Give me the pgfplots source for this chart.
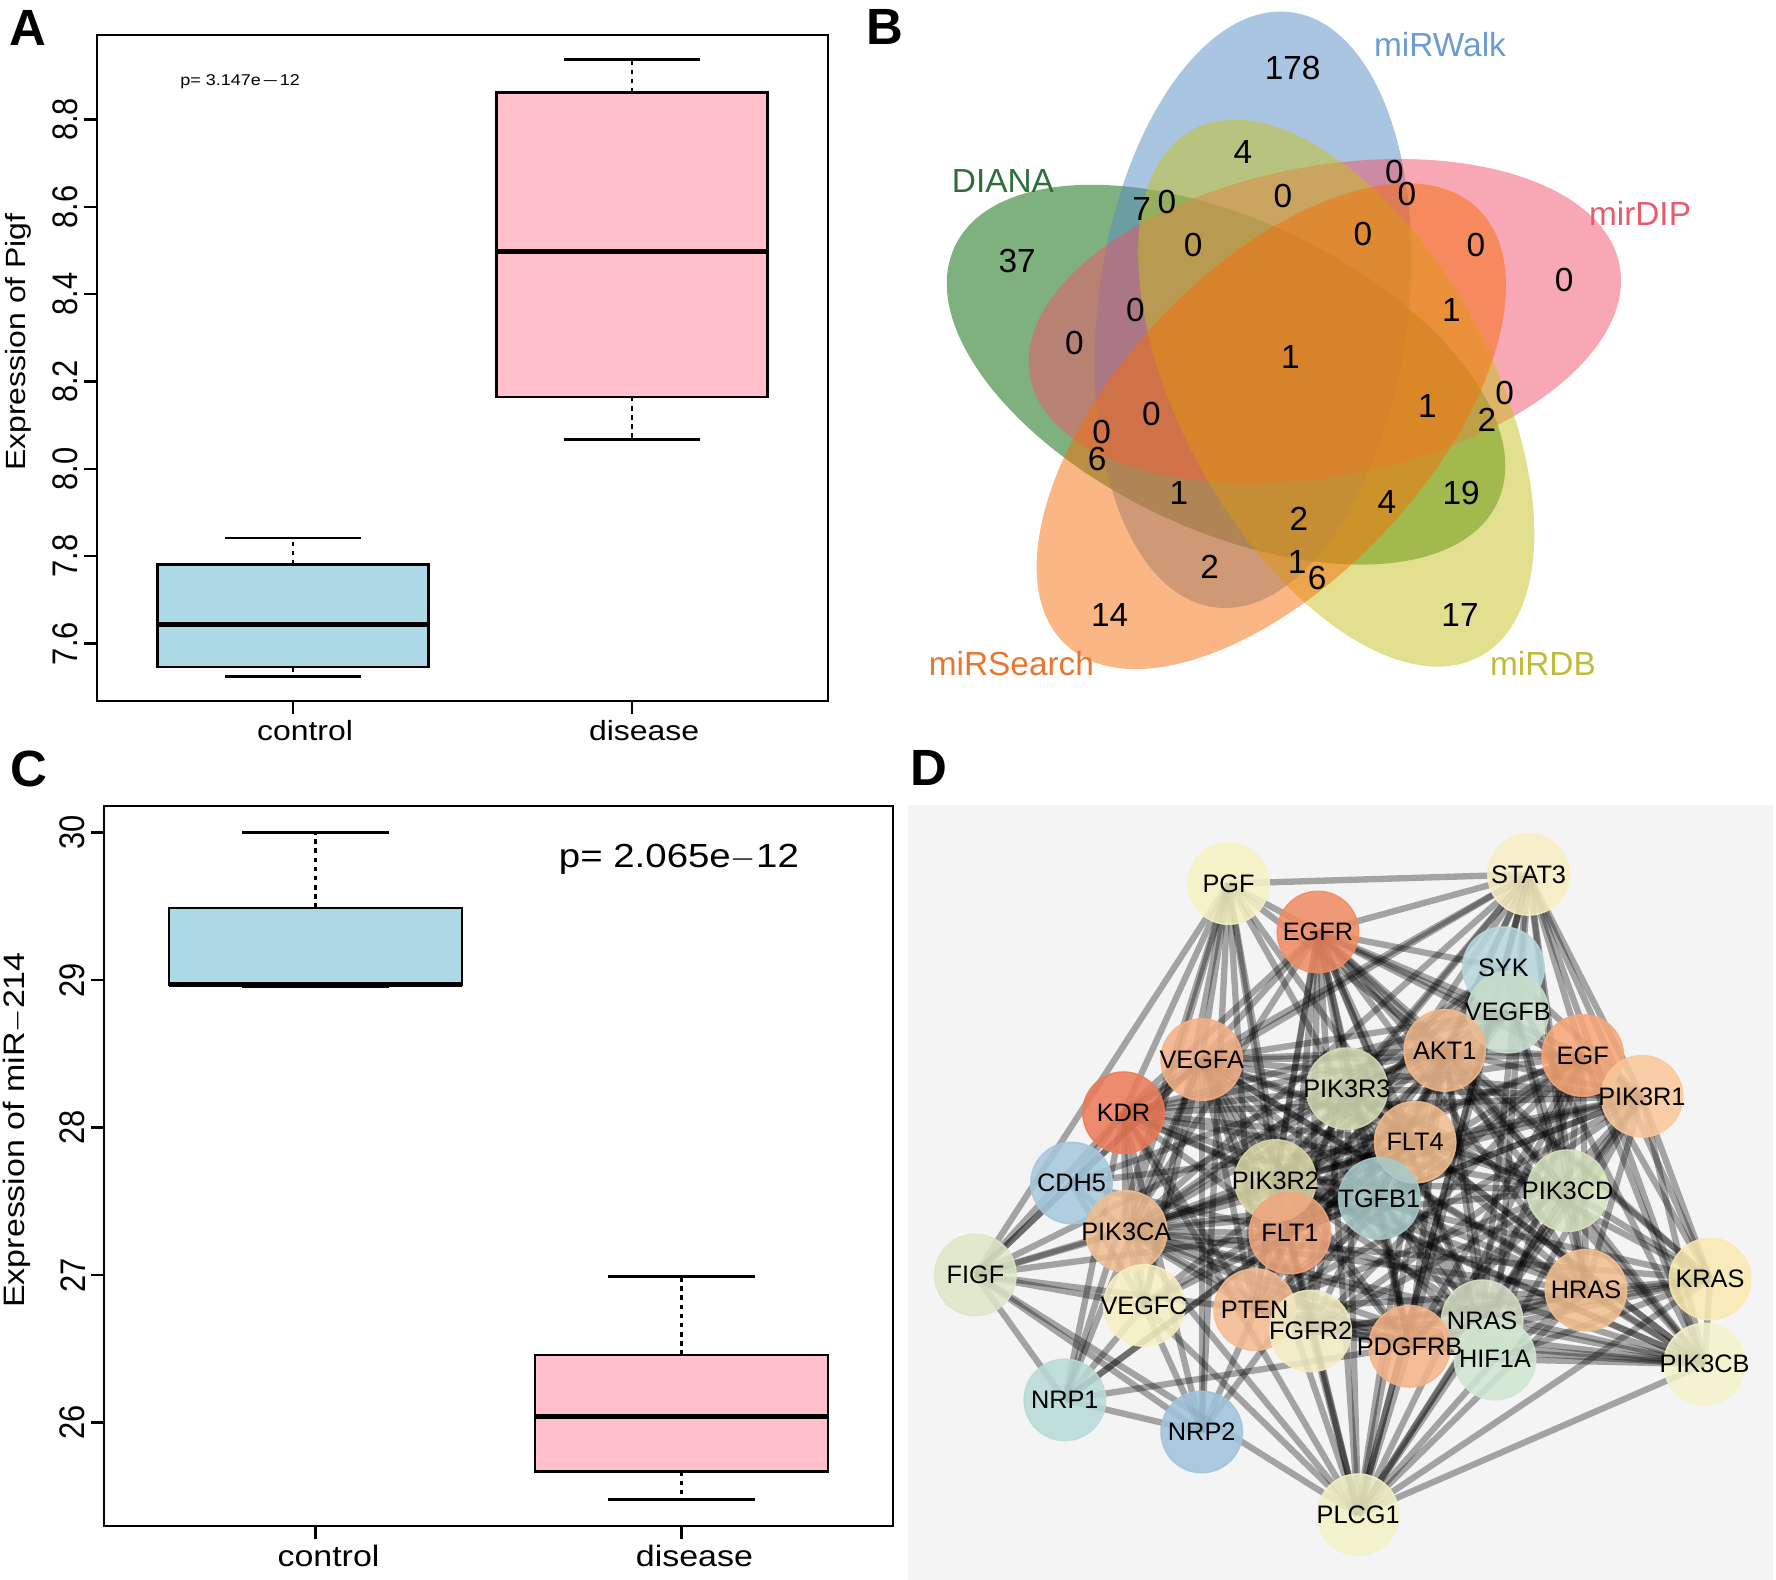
\documentclass[border=0pt]{standalone}
\usepackage{pgfplots}
\pgfplotsset{compat=1.18}
\usepackage{pgfplotstable}
\usepackage{fontspec}
\setmainfont{Liberation Sans}
\newfontfamily\widesans[FakeStretch=1.15]{Liberation Sans}
\newfontfamily\narrowsans[FakeStretch=0.87]{Liberation Sans}

\definecolor{boxblue}{HTML}{ADD8E6}
\definecolor{boxpink}{HTML}{FFC0CB}
\definecolor{vgreen}{HTML}{006400}
\definecolor{vblue}{HTML}{548CC6}
\definecolor{vpink}{HTML}{F15169}
\definecolor{vyellow}{HTML}{C5C11D}
\definecolor{vorange}{HTML}{F56E0A}
\definecolor{lgreen}{HTML}{2E6E3C}
\definecolor{lblue}{HTML}{6A9BD2}
\definecolor{lpink}{HTML}{E85A6E}
\definecolor{lyellow}{HTML}{BDBD3A}
\definecolor{lorange}{HTML}{E9762D}
\definecolor{netbg}{HTML}{F4F4F4}
\definecolor{nPGF}{HTML}{F6F2C4}
\definecolor{nSTAT3}{HTML}{F8EFC2}
\definecolor{nEGFR}{HTML}{EF8B62}
\definecolor{nSYK}{HTML}{B5D7DC}
\definecolor{nVEGFB}{HTML}{C8DDCB}
\definecolor{nAKT1}{HTML}{F0B88C}
\definecolor{nEGF}{HTML}{F7A677}
\definecolor{nPIK3R1}{HTML}{FAC79A}
\definecolor{nVEGFA}{HTML}{F4B086}
\definecolor{nPIK3R3}{HTML}{D4DBB4}
\definecolor{nKDR}{HTML}{EC7A59}
\definecolor{nFLT4}{HTML}{F1BD8E}
\definecolor{nCDH5}{HTML}{A6C7DD}
\definecolor{nPIK3R2}{HTML}{DBD7A8}
\definecolor{nTGFB1}{HTML}{A8C9CA}
\definecolor{nPIK3CD}{HTML}{D7E3C1}
\definecolor{nPIK3CA}{HTML}{EFBD91}
\definecolor{nFLT1}{HTML}{F0A67E}
\definecolor{nFIGF}{HTML}{DDE7C7}
\definecolor{nKRAS}{HTML}{F9EAB0}
\definecolor{nHRAS}{HTML}{F2BF8F}
\definecolor{nVEGFC}{HTML}{F6F0C2}
\definecolor{nPTEN}{HTML}{F4BB8F}
\definecolor{nFGFR2}{HTML}{F3EBC2}
\definecolor{nNRAS}{HTML}{D5DFC6}
\definecolor{nPDGFRB}{HTML}{F4B388}
\definecolor{nHIFA}{HTML}{D0E6D1}
\definecolor{nPIK3CB}{HTML}{F3F3C9}
\definecolor{nNRP1}{HTML}{B7DBD7}
\definecolor{nNRP2}{HTML}{9EC3DB}
\definecolor{nPLCG1}{HTML}{F2F2C6}

\pgfplotstableread{
x y name
1228.5 883.6 PGF
1528.5 874.4 STAT3
1317.9 932.0 EGFR
1503.4 967.8 SYK
1507.8 1012.1 VEGFB
1444.7 1050.4 AKT1
1582.7 1055.5 EGF
1641.9 1096.3 PIK3R1
1201.7 1059.6 VEGFA
1346.9 1088.7 PIK3R3
1123.5 1112.7 KDR
1415.1 1142.2 FLT4
1071.5 1183.0 CDH5
1275.4 1180.5 PIK3R2
1379.3 1198.4 TGFB1
1567.6 1190.7 PIK3CD
1126.3 1231.5 PIK3CA
1289.9 1233.0 FLT1
975.4 1274.9 FIGF
1710.0 1279.0 KRAS
1586.0 1290.2 HRAS
1144.1 1305.5 VEGFC
1254.7 1309.6 PTEN
1310.6 1331.0 FGFR2
1482.1 1320.8 NRAS
1409.5 1346.3 PDGFRB
1495.0 1359.1 HIF1A
1704.5 1364.2 PIK3CB
1064.8 1399.9 NRP1
1201.7 1432.0 NRP2
1358.1 1514.7 PLCG1
}\netnodes

\pgfplotstableread{
x y lab
1292.6 67.9 178
1242.9 151.8 4
1394.3 171.9 0
1406.9 194.2 0
1141.7 208.9 7
1166.9 201.8 0
1282.9 196.4 0
1017.1 261.2 37
1193.1 244.6 0
1362.9 234.4 0
1476.0 244.6 0
1564.0 280.4 0
1135.4 310.3 0
1074.3 342.9 0
1451.4 310.3 1
1290.3 357.1 1
1427.4 406.3 1
1504.6 392.9 0
1486.9 419.6 2
1151.4 414.3 0
1101.7 432.1 0
1097.1 458.9 6
1178.9 493.3 1
1298.9 518.8 2
1386.9 502.2 4
1461.1 493.3 19
1209.7 567.0 2
1297.1 562.5 1
1317.1 578.1 6
1109.7 614.7 14
1460.0 614.7 17
}\venncounts

\pgfplotsset{
  rpanel/.style={
    scale only axis, anchor=south west,
    xmin=0.422, xmax=2.578,
    xtick={1,2}, xticklabels={control,disease},
    tick pos=left, tick align=outside, major tick length=1.3mm,
    tick style={black, line width=0.7pt},
    axis line style={line width=0.7pt},
    /pgf/number format/assume math mode=true,
    yticklabel style={font=\narrowsans\fontsize{10.1}{11}\selectfont, rotate=90, anchor=south, inner sep=1.5pt},
  },
  rline/.style={draw=black, line width=0.7pt, mark=none, forget plot},
  rdash/.style={draw=black, line width=0.7pt, dash pattern=on 1.3pt off 1.3pt, mark=none, forget plot},
  rmed/.style={draw=black, line width=1.5pt, mark=none, forget plot},
  netedge/.style={draw=black, draw opacity=0.33, line width=1.8pt, mark=none, forget plot},
}

\begin{document}
\begin{tikzpicture}
\useasboundingbox (0,0) rectangle (177.6mm,158mm);

% ---------- Panel A ----------
\begin{axis}[rpanel, at={(9.7mm,87.9mm)}, width=73.1mm, height=66.6mm,
  ymin=7.4685, ymax=8.9935, ytick={7.6,7.8,8.0,8.2,8.4,8.6,8.8},
  yticklabel style={/pgf/number format/fixed, /pgf/number format/fixed zerofill, /pgf/number format/precision=1},
  xticklabel style={font=\widesans\fontsize{7.9}{9}\selectfont, xshift=1.2mm, inner sep=1.5pt},
  ylabel={Expression of Pigf},
  ylabel style={at={(axis description cs:-0.108,0.539)}, anchor=center, font=\widesans\fontsize{7.9}{9}\selectfont}]
% control: lw 7.525, q1 7.546, med 7.6435, q3 7.781, uw 7.8416
\addplot[rline, fill=boxblue] coordinates {(0.6,7.546) (1.4,7.546) (1.4,7.781) (0.6,7.781)} -- cycle;
\addplot[rmed] coordinates {(0.6,7.6435) (1.4,7.6435)};
\addplot[rdash] coordinates {(1,7.781) (1,7.8416)};
\addplot[rline] coordinates {(0.8,7.8416) (1.2,7.8416)};
\addplot[rdash] coordinates {(1,7.546) (1,7.525)};
\addplot[rline] coordinates {(0.8,7.525) (1.2,7.525)};
% disease: lw 8.067, q1 8.165, med 8.498, q3 8.862, uw 8.937
\addplot[rline, fill=boxpink] coordinates {(1.6,8.165) (2.4,8.165) (2.4,8.862) (1.6,8.862)} -- cycle;
\addplot[rmed] coordinates {(1.6,8.498) (2.4,8.498)};
\addplot[rdash] coordinates {(2,8.862) (2,8.937)};
\addplot[rline] coordinates {(1.8,8.937) (2.2,8.937)};
\addplot[rdash] coordinates {(2,8.165) (2,8.067)};
\addplot[rline] coordinates {(1.8,8.067) (2.2,8.067)};
\node[font=\widesans\fontsize{4.45}{5}\selectfont] at (axis cs:0.844,8.887) {p= 3.147e$-$12};
\end{axis}

% ---------- Panel C ----------
\begin{axis}[rpanel, at={(10.4mm,5.4mm)}, width=78.9mm, height=72mm,
  ymin=25.30, ymax=30.18, ytick={26,27,28,29,30},
  xticklabel style={font=\widesans\fontsize{8.4}{9.5}\selectfont, xshift=1.3mm, inner sep=1.5pt},
  ylabel={Expression of miR$-$214},
  ylabel style={at={(axis description cs:-0.110,0.55)}, anchor=center, font=\widesans\fontsize{8.4}{10}\selectfont}]
% control: lw 28.955, q1 28.965, med 28.97, q3 29.49, uw 30.0
\addplot[rline, fill=boxblue] coordinates {(0.6,28.965) (1.4,28.965) (1.4,29.49) (0.6,29.49)} -- cycle;
\addplot[rmed] coordinates {(0.6,28.97) (1.4,28.97)};
\addplot[rdash] coordinates {(1,29.49) (1,30.0)};
\addplot[rline] coordinates {(0.8,30.0) (1.2,30.0)};
\addplot[rline] coordinates {(0.8,28.955) (1.2,28.955)};
% disease: lw 25.48, q1 25.67, med 26.04, q3 26.46, uw 26.99
\addplot[rline, fill=boxpink] coordinates {(1.6,25.67) (2.4,25.67) (2.4,26.46) (1.6,26.46)} -- cycle;
\addplot[rmed] coordinates {(1.6,26.04) (2.4,26.04)};
\addplot[rdash] coordinates {(2,26.46) (2,26.99)};
\addplot[rline] coordinates {(1.8,26.99) (2.2,26.99)};
\addplot[rdash] coordinates {(2,25.67) (2,25.48)};
\addplot[rline] coordinates {(1.8,25.48) (2.2,25.48)};
\node[font=\widesans\fontsize{9.5}{11}\selectfont] at (axis cs:1.993,29.82) {p= 2.065e$-$12};
\end{axis}

% ---------- Panel B (Venn) ----------
\begin{axis}[at={(88mm,88mm)}, anchor=south west, scale only axis, width=89.6mm, height=70mm,
  xmin=880, xmax=1776, ymin=0, ymax=700, y dir=reverse, hide axis, clip=false]
\fill[vgreen, fill opacity=0.5, rotate around={154.7:(axis cs:1226,374.7)}] (axis cs:1226,374.7) ellipse [x radius=30mm, y radius=15.5mm];
\fill[vblue, fill opacity=0.5, rotate around={82.7:(axis cs:1252.9,309.8)}] (axis cs:1252.9,309.8) ellipse [x radius=30mm, y radius=15.5mm];
\fill[vpink, fill opacity=0.5, rotate around={10.7:(axis cs:1324.8,321.2)}] (axis cs:1324.8,321.2) ellipse [x radius=30mm, y radius=15.5mm];
\fill[vyellow, fill opacity=0.5, rotate around={-61.3:(axis cs:1336.2,393.1)}] (axis cs:1336.2,393.1) ellipse [x radius=30mm, y radius=15.5mm];
\fill[vorange, fill opacity=0.5, rotate around={-133.3:(axis cs:1271.3,426.2)}] (axis cs:1271.3,426.2) ellipse [x radius=30mm, y radius=15.5mm];
\addplot[only marks, mark=none, nodes near coords, point meta=explicit symbolic,
  nodes near coords align=center,
  every node near coord/.append style={font=\fontsize{9.5}{11}\selectfont, inner sep=0pt, text=black}]
  table[x=x, y=y, meta=lab] {\venncounts};
\node[text=lblue, font=\fontsize{9.5}{11}\selectfont] at (axis cs:1440,44.6) {miRWalk};
\node[text=lgreen, font=\fontsize{9.5}{11}\selectfont] at (axis cs:1002.9,180.8) {DIANA};
\node[text=lpink, font=\fontsize{9.5}{11}\selectfont] at (axis cs:1640,213.4) {mirDIP};
\node[text=lorange, font=\fontsize{9.5}{11}\selectfont] at (axis cs:1011.4,663.8) {miRSearch};
\node[text=lyellow, font=\fontsize{9.5}{11}\selectfont] at (axis cs:1542.9,663.8) {miRDB};
\end{axis}

% ---------- Panel D (network) ----------
\begin{axis}[at={(90.8mm,0mm)}, anchor=south west, scale only axis, width=86.5mm, height=77.5mm,
  xmin=908, xmax=1773, ymin=805, ymax=1580, y dir=reverse,
  ticks=none, axis line style={draw=none}, axis background/.style={fill=netbg}, clip=false]
\foreach \a/\b in {0/1,0/2,0/5,0/8,0/10,0/11,0/13,0/16,0/17,0/18,0/21,0/22,0/26,0/28,0/29,%
1/2,1/3,1/5,1/6,1/7,1/8,1/9,1/10,1/13,1/14,1/15,1/16,1/17,1/19,1/20,1/24,1/25,1/26,1/27,1/30,%
2/3,2/4,2/5,2/6,2/7,2/8,2/9,2/10,2/11,2/13,2/14,2/15,2/16,2/17,2/19,2/20,2/22,2/23,2/24,2/25,2/26,2/27,2/30,%
3/5,3/7,3/9,3/13,3/15,3/16,3/20,3/27,3/30,%
4/5,4/8,4/10,4/11,4/17,4/18,4/21,%
5/6,5/7,5/8,5/9,5/10,5/11,5/12,5/13,5/14,5/15,5/16,5/17,5/19,5/20,5/22,5/23,5/24,5/25,5/26,5/27,5/30,%
6/7,6/8,6/9,6/13,6/14,6/15,6/16,6/17,6/19,6/20,6/22,6/23,6/24,6/25,6/26,6/27,6/30,%
7/8,7/9,7/10,7/11,7/13,7/14,7/15,7/16,7/17,7/19,7/20,7/22,7/23,7/24,7/25,7/26,7/27,7/30,%
8/9,8/10,8/11,8/12,8/13,8/14,8/15,8/16,8/17,8/18,8/20,8/21,8/22,8/23,8/25,8/26,8/27,8/28,8/29,8/30,%
9/10,9/11,9/13,9/15,9/16,9/17,9/19,9/20,9/22,9/23,9/24,9/25,9/27,9/30,%
10/11,10/12,10/13,10/14,10/15,10/16,10/17,10/18,10/21,10/22,10/27,10/28,10/29,10/30,%
11/12,11/13,11/15,11/16,11/17,11/18,11/21,11/27,11/28,11/29,11/30,%
12/16,12/17,12/18,12/21,%
13/15,13/16,13/17,13/19,13/20,13/22,13/23,13/24,13/25,13/27,13/30,%
14/16,14/17,14/20,14/22,14/24,14/25,14/26,%
15/16,15/19,15/20,15/22,15/23,15/24,15/25,15/27,15/30,%
16/17,16/18,16/19,16/20,16/21,16/22,16/23,16/24,16/25,16/26,16/27,16/30,%
17/18,17/21,17/27,17/28,17/29,17/30,%
18/21,18/22,18/28,18/29,18/30,%
19/20,19/23,19/24,19/25,19/26,19/27,19/30,%
20/22,20/23,20/24,20/25,20/26,20/27,20/30,%
21/28,21/29,21/30,22/23,22/25,22/26,22/27,23/24,23/25,23/27,23/30,%
24/25,24/27,24/30,25/27,25/28,25/30,26/27,26/30,27/30,28/29}{%
  \pgfplotstablegetelem{\a}{x}\of\netnodes \let\xa\pgfplotsretval
  \pgfplotstablegetelem{\a}{y}\of\netnodes \let\ya\pgfplotsretval
  \pgfplotstablegetelem{\b}{x}\of\netnodes \let\xb\pgfplotsretval
  \pgfplotstablegetelem{\b}{y}\of\netnodes \let\yb\pgfplotsretval
  \edef\tmp{\noexpand\addplot[netedge] coordinates {(\xa,\ya) (\xb,\yb)};}%
  \tmp
}
\addplot[scatter, only marks, mark=*, mark size=11.6pt, scatter src=explicit symbolic,
  opacity=0.86,
  scatter/classes={
    PGF={fill=nPGF,draw=nPGF}, STAT3={fill=nSTAT3,draw=nSTAT3}, EGFR={fill=nEGFR,draw=nEGFR},
    SYK={fill=nSYK,draw=nSYK}, VEGFB={fill=nVEGFB,draw=nVEGFB}, AKT1={fill=nAKT1,draw=nAKT1},
    EGF={fill=nEGF,draw=nEGF}, PIK3R1={fill=nPIK3R1,draw=nPIK3R1}, VEGFA={fill=nVEGFA,draw=nVEGFA},
    PIK3R3={fill=nPIK3R3,draw=nPIK3R3}, KDR={fill=nKDR,draw=nKDR}, FLT4={fill=nFLT4,draw=nFLT4},
    CDH5={fill=nCDH5,draw=nCDH5}, PIK3R2={fill=nPIK3R2,draw=nPIK3R2}, TGFB1={fill=nTGFB1,draw=nTGFB1},
    PIK3CD={fill=nPIK3CD,draw=nPIK3CD}, PIK3CA={fill=nPIK3CA,draw=nPIK3CA}, FLT1={fill=nFLT1,draw=nFLT1},
    FIGF={fill=nFIGF,draw=nFIGF}, KRAS={fill=nKRAS,draw=nKRAS}, HRAS={fill=nHRAS,draw=nHRAS},
    VEGFC={fill=nVEGFC,draw=nVEGFC}, PTEN={fill=nPTEN,draw=nPTEN}, FGFR2={fill=nFGFR2,draw=nFGFR2},
    NRAS={fill=nNRAS,draw=nNRAS}, PDGFRB={fill=nPDGFRB,draw=nPDGFRB}, HIF1A={fill=nHIFA,draw=nHIFA},
    PIK3CB={fill=nPIK3CB,draw=nPIK3CB}, NRP1={fill=nNRP1,draw=nNRP1}, NRP2={fill=nNRP2,draw=nNRP2},
    PLCG1={fill=nPLCG1,draw=nPLCG1}}]
  table[x=x, y=y, meta=name] {\netnodes};
\addplot[only marks, mark=none, nodes near coords, point meta=explicit symbolic,
  nodes near coords align=center,
  every node near coord/.append style={font=\fontsize{7.2}{8}\selectfont, inner sep=0pt, text=black}]
  table[x=x, y=y, meta=name] {\netnodes};
\end{axis}

% panel letters
\node[font=\fontsize{14.5}{16}\bfseries] at (2.8mm,155.2mm) {A};
\node[font=\fontsize{14.5}{16}\bfseries] at (88.45mm,155.3mm) {B};
\node[font=\fontsize{14.5}{16}\bfseries] at (2.9mm,81.1mm) {C};
\node[font=\fontsize{14.5}{16}\bfseries] at (92.9mm,81.2mm) {D};
\end{tikzpicture}
\end{document}
